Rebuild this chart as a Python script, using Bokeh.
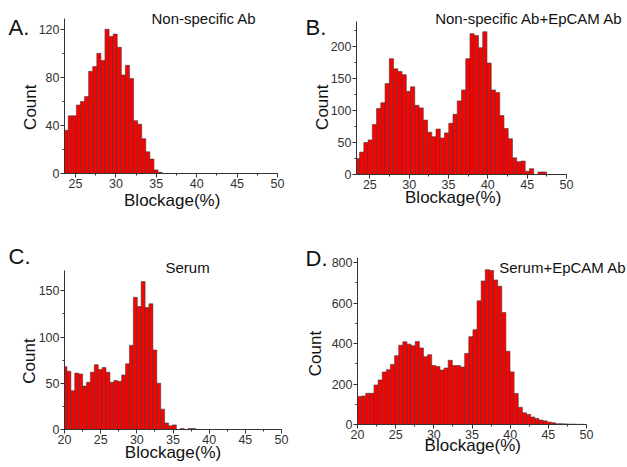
import math
from bokeh.plotting import figure
from bokeh.models import Label, SingleIntervalTicker, Range1d, ColumnDataSource
from bokeh.layouts import gridplot
from bokeh.embed import file_html
from bokeh.resources import INLINE

FONT = "Liberation Sans"

# ---------------- data (histogram counts) ----------------
a_counts = [36, 48, 48, 57, 60, 64, 85, 89, 100, 94, 120, 114, 116, 105, 82, 90,
            79, 44, 41, 29, 18, 12, 3, 1]
a_first_edge = 23.6
a_bin_width = 0.505

b_counts = [25, 35, 50, 54, 78, 103, 112, 142, 181, 165, 161, 156, 130, 137, 108,
            104, 85, 66, 59, 71, 57, 65, 80, 94, 115, 132, 181, 220, 217, 198,
            223, 174, 132, 128, 92, 72, 56, 26, 20, 21, 5, 9, 0, 4, 4]
b_first_edge = 23.15
b_bin_width = 0.54

c_counts = [68, 63, 42, 61, 60, 47, 51, 62, 70, 65, 67, 62, 51, 53, 52, 59, 71,
            91, 143, 133, 160, 132, 136, 86, 50, 22, 7, 4, 5, 0, 1, 0, 1, 1]
c_first_edge = 19.8
c_bin_width = 0.54

d_counts = [138, 141, 154, 154, 195, 220, 259, 271, 297, 340, 392, 409, 397, 389,
            410, 378, 335, 345, 291, 287, 269, 279, 317, 291, 291, 284, 351, 434,
            468, 611, 709, 765, 761, 714, 683, 553, 362, 260, 153, 85, 58, 50, 37,
            30, 22, 18, 12, 9, 4, 4, 3, 2, 2, 1, 1]
d_first_edge = 20.0
d_bin_width = 0.54

panel_letters = ["A.", "B.", "C.", "D."]
panel_titles = ["Non-specific Ab", "Non-specific Ab+EpCAM Ab", "Serum", "Serum+EpCAM Ab"]
x_title = "Blockage(%)"
y_title = "Count"

BASE_SHIFT = 0.38   # measured baseline offset of Label text, as a fraction of font size


def make_panel(counts, first_edge, bin_width, xb, yb, y_interval,
               size, axes_box, letter, letter_pos, title, title_pos,
               count_pos, block_pos):
    """xb / yb: axis extents in data units; axes_box: pixel box (left, right, top, bottom)
    of the axes inside the canvas.  The frame covers the whole canvas and the axes are
    drawn at fixed locations so that every text can be placed freely."""
    w, h = size
    al, ar, at, ab = axes_box
    upx = (xb[1] - xb[0]) / (ar - al)
    upy = (yb[1] - yb[0]) / (ab - at)
    xr = (xb[0] - al * upx, xb[1] + (w - ar) * upx)
    yr = (yb[0] - (h - ab) * upy, yb[1] + at * upy)

    p = figure(width=w, height=h, output_backend="svg", toolbar_location=None,
               x_range=Range1d(*xr), y_range=Range1d(*yr),
               min_border=0, min_border_left=0, min_border_right=0,
               min_border_top=0, min_border_bottom=0)
    p.outline_line_color = None
    p.grid.visible = False
    p.background_fill_color = "white"
    p.border_fill_color = "white"

    edges = [first_edge + i * bin_width for i in range(len(counts))]
    lefts = [max(e, xb[0]) for e in edges]
    rights = [e + bin_width for e in edges]
    src = ColumnDataSource(dict(left=lefts, right=rights, top=counts,
                                bottom=[0] * len(counts)))
    p.quad(left="left", right="right", top="top", bottom="bottom", source=src,
           fill_color="#FF0000", line_color="#3a3a3a", line_width=0.6)

    p.xaxis.ticker = SingleIntervalTicker(interval=5, num_minor_ticks=2)
    p.yaxis.ticker = SingleIntervalTicker(interval=y_interval, num_minor_ticks=2)
    p.xaxis.fixed_location = yb[0]
    p.yaxis.fixed_location = xb[0]
    p.xaxis.bounds = xb
    p.yaxis.bounds = yb
    for ax in (p.xaxis, p.yaxis):
        ax.axis_line_color = "#333333"
        ax.axis_line_width = 1
        ax.major_tick_line_color = "#333333"
        ax.minor_tick_line_color = "#333333"
        ax.major_tick_in = 0
        ax.major_tick_out = 4
        ax.minor_tick_in = 0
        ax.minor_tick_out = 2
        ax.major_label_text_font = FONT
        ax.major_label_text_font_size = "12.5px"
        ax.major_label_text_color = "#333333"
        ax.major_label_standoff = 1

    def to_data(px, py):
        return xr[0] + px * upx, yr[1] - py * upy

    def add_text(text, px, py, fs, align="left", rotated=False):
        if rotated:
            px = px - BASE_SHIFT * fs
        else:
            py = py - BASE_SHIFT * fs
        x, y = to_data(px, py)
        p.add_layout(Label(x=x, y=y, text=text, text_font=FONT,
                           text_font_size=f"{fs}px", text_color="#111111",
                           text_baseline="alphabetic", text_align=align,
                           angle=math.pi / 2 if rotated else 0))

    add_text(letter, letter_pos[0], letter_pos[1], 22)
    add_text(title, title_pos[0], title_pos[1], 15)
    add_text(y_title, count_pos[0], count_pos[1], 17, align="center", rotated=True)
    add_text(x_title, block_pos[0], block_pos[1], 17, align="center")
    return p


pa = make_panel(a_counts, a_first_edge, a_bin_width, (23.64, 50), (0, 129), 40,
                (300, 233), (64, 277, 18, 173),
                panel_letters[0], (8, 35), panel_titles[0], (151, 24),
                (36.7, 106.7), (171.7, 206))
pb = make_panel(b_counts, b_first_edge, b_bin_width, (23.3, 50), (0, 239), 50,
                (327, 233), (56, 266, 21, 174),
                panel_letters[1], (5, 35), panel_titles[1], (134.7, 23.5),
                (28, 106.7), (152.7, 203))
pc = make_panel(c_counts, c_first_edge, c_bin_width, (20, 50), (0, 172), 50,
                (300, 234), (64, 281, 37, 196),
                panel_letters[2], (8, 31), panel_titles[2], (165, 39.3),
                (35, 127.5), (172.5, 225))
pd = make_panel(d_counts, d_first_edge, d_bin_width, (20, 50), (0, 825), 200,
                (327, 234), (57, 286, 24, 191),
                panel_letters[3], (5, 33), panel_titles[3], (198.7, 40),
                (21, 120), (172.3, 218.5))

grid = gridplot([[pa, pb], [pc, pd]], toolbar_location=None)

open("out.html", "w").write(file_html(grid, INLINE))
